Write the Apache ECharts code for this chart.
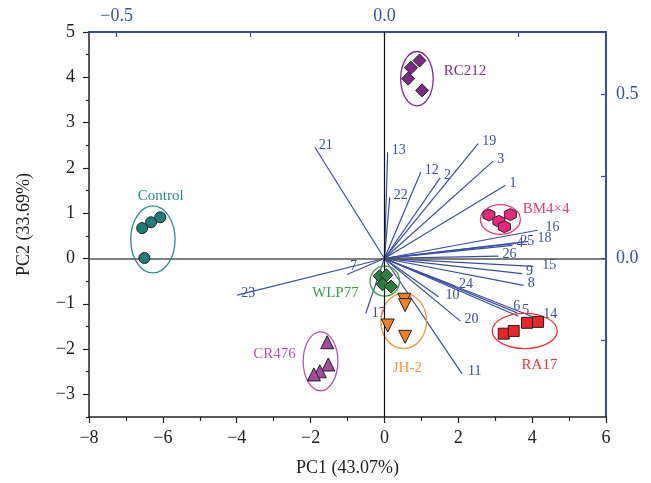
<!DOCTYPE html>
<html>
<head>
<meta charset="utf-8">
<script src="https://cdn.jsdelivr.net/npm/echarts@6/dist/echarts.min.js"></script>
<style>
  html, body { margin: 0; padding: 0; background: #fff; }
  #chart { width: 651px; height: 483px; }
</style>
</head>
<body>
<div id="chart"></div>
<script>
  // score points (PC1, PC2) per group
  var groupNames = ["Control", "RC212", "BM4×4", "WLP77", "JH-2", "RA17", "CR476"];
  var controlScores = [[-6.56, 0.67], [-6.32, 0.80], [-6.07, 0.91], [-6.50, 0.01]];
  var rc212Scores = [[0.95, 4.37], [0.72, 4.21], [0.64, 3.97], [1.02, 3.71]];
  var bm44Scores = [[2.83, 0.96], [3.10, 0.82], [3.41, 0.97], [3.25, 0.70]];
  var wlp77Scores = [[-0.13, -0.39], [0.05, -0.37], [-0.05, -0.57], [0.18, -0.62]];
  var jh2Scores = [[0.54, -0.91], [0.56, -1.03], [0.09, -1.48], [0.56, -1.73]];
  var ra17Scores = [[3.23, -1.66], [3.50, -1.60], [3.86, -1.42], [4.16, -1.40]];
  var cr476Scores = [[-1.55, -1.85], [-1.52, -2.34], [-1.75, -2.49], [-1.91, -2.56]];

  // confidence ellipses: centre x, centre y, half width, half height (score units)
  var ellipseCx = [-6.27, 0.88, 3.14, 0.01, 0.52, 3.80, -1.73];
  var ellipseCy = [0.42, 3.97, 0.86, -0.50, -1.38, -1.60, -2.27];
  var ellipseRx = [0.60, 0.44, 0.54, 0.40, 0.62, 0.88, 0.47];
  var ellipseRy = [0.74, 0.60, 0.33, 0.33, 0.61, 0.39, 0.65];

  // variable loadings (top / right axes)
  var variableIds = ["1", "2", "3", "4", "5", "6", "7", "8", "9", "10", "11", "12", "13",
    "14", "15", "16", "17", "18", "19", "20", "21", "22", "23", "24", "25", "26"];
  var loadingPC1 = [0.226, 0.104, 0.203, 0.239, 0.250, 0.248, -0.070, 0.260, 0.257, 0.101, 0.145, 0.068, 0.006,
    0.276, 0.278, 0.286, -0.035, 0.269, 0.175, 0.142, -0.130, 0.010, -0.275, 0.132, 0.246, 0.213];
  var loadingPC2 = [0.223, 0.246, 0.297, 0.040, -0.176, -0.166, -0.049, -0.082, -0.046, -0.117, -0.352, 0.264, 0.324,
    -0.177, -0.024, 0.086, -0.168, 0.052, 0.350, -0.191, 0.339, 0.187, -0.112, -0.084, 0.046, 0.007];

  // tick labels
  var pc1Ticks = [-8, -6, -4, -2, 0, 2, 4, 6];
  var pc2Ticks = [-3, -2, -1, 0, 1, 2, 3, 4, 5];
  var pc2MinorTicks = [-3.5, -2.5, -1.5, -0.5, 0.5, 1.5, 2.5, 3.5, 4.5];
  var loadTopTicks = [-0.5, 0.0];
  var loadRightTicks = [0.0, 0.5];

  // ---- styling / layout ----
  var blue = "#3b4ea0";
  var serif = "Liberation Serif";
  var fillColors = ["#1d7d78", "#7a2a84", "#e8287b", "#2c7f3a", "#f28024", "#e8262b", "#a24c9d"];
  var lineColors = ["#2a8c86", "#7f2d88", "#e83c82", "#3b9a4b", "#f5963b", "#e8353b", "#b257aa"];
  var symbols = ["circle", "diamond",
    "path://M0,-1L0.866,-0.5L0.866,0.5L0,1L-0.866,0.5L-0.866,-0.5Z",
    "diamond", "path://M-1,-0.85L1,-0.85L0,0.9Z", "rect", "triangle"];
  var symbolSizes = [11, 13, 12, 13, 13, 11, 13];
  var groupLabelAt = [[-6.06, 1.37], [2.18, 4.13], [4.38, 1.08], [-1.33, -0.77], [0.62, -2.41], [4.20, -2.36], [-2.98, -2.10]];
  var labelShift = { "5": [4, -6], "6": [-4, -7], "7": [3, -8], "10": [7, -2], "11": [6, -3], "14": [11, -2],
    "15": [9, -1], "16": [8, -3], "17": [6, 0], "18": [9, -3] };

  var scaleX = 14.5, scaleY = 7.24; // score units per loading unit

  var allScores = [controlScores, rc212Scores, bm44Scores, wlp77Scores, jh2Scores, ra17Scores, cr476Scores];
  var minus = function (v) { return String(v).replace("-", "\u2212"); };
  var gridBox = { left: 89, right: 45, top: 32, bottom: 66, containLabel: false };

  var series = [];

  // zero lines
  series.push({
    type: "scatter", data: [], z: 1,
    markLine: {
      silent: true, symbol: "none", label: { show: false }, animation: false,
      data: [
        { yAxis: 0, lineStyle: { color: "#555", width: 1.6, type: "solid" } },
        { xAxis: 0, lineStyle: { color: "#111", width: 1.2, type: "solid" } }
      ]
    }
  });

  // loading vectors
  var vecData = variableIds.map(function (id, i) { return [loadingPC1[i], loadingPC2[i], i]; });
  series.push({
    type: "custom", xAxisIndex: 1, yAxisIndex: 1, z: 2, data: vecData,
    renderItem: function (params, api) {
      var o = api.coord([0, 0]);
      var p = api.coord([api.value(0), api.value(1)]);
      var id = variableIds[api.value(2)];
      var s = labelShift[id] || [4, -2];
      return {
        type: "group",
        children: [
          { type: "line", shape: { x1: o[0], y1: o[1], x2: p[0], y2: p[1] }, style: { stroke: blue, lineWidth: 1.2 } },
          { type: "text", x: p[0] + s[0], y: p[1] + s[1],
            style: { text: id, fill: blue, font: "14px " + serif, align: "left", verticalAlign: "middle" } }
        ]
      };
    }
  });

  // ellipses
  var ellData = groupNames.map(function (n, i) { return [ellipseCx[i], ellipseCy[i], ellipseRx[i], ellipseRy[i], i]; });
  series.push({
    type: "custom", z: 3, data: ellData,
    renderItem: function (params, api) {
      var c = api.coord([api.value(0), api.value(1)]);
      var sz = api.size([api.value(2), api.value(3)]);
      return {
        type: "ellipse", shape: { cx: c[0], cy: c[1], rx: sz[0], ry: sz[1] },
        style: { fill: "none", stroke: lineColors[api.value(4)], lineWidth: 1.3 }
      };
    }
  });

  // group labels
  var glData = groupNames.map(function (n, i) { return [groupLabelAt[i][0], groupLabelAt[i][1], i]; });
  series.push({
    type: "custom", z: 3, data: glData,
    renderItem: function (params, api) {
      var c = api.coord([api.value(0), api.value(1)]);
      var i = api.value(2);
      return {
        type: "text", x: c[0], y: c[1],
        style: { text: groupNames[i], fill: lineColors[i], font: "15px " + serif, align: "center", verticalAlign: "middle" }
      };
    }
  });

  // score points
  allScores.forEach(function (pts, i) {
    series.push({
      type: "scatter", name: groupNames[i], z: 5, data: pts,
      symbol: symbols[i], symbolSize: symbolSizes[i],
      itemStyle: { color: fillColors[i], borderColor: "#222", borderWidth: 1, opacity: 1 }
    });
  });

  var chart = echarts.init(document.getElementById("chart"), null, { renderer: "canvas" });
  chart.setOption({
    animation: false,
    backgroundColor: "#fff",
    // second grid (same box) only carries the short half-step ticks of the left axis
    grid: [gridBox, gridBox],
    xAxis: [
      {
        type: "value", min: -8, max: 6, interval: 2, position: "bottom",
        name: "PC1 (43.07%)", nameLocation: "middle", nameGap: 42,
        nameTextStyle: { color: "#222", fontSize: 18, fontFamily: serif },
        axisLine: { show: true, onZero: false, lineStyle: { color: "#222", width: 1.5 } },
        axisTick: { show: true, inside: false, length: 6, lineStyle: { color: "#222", width: 1.2 } },
        minorTick: { show: true, splitNumber: 2, length: 4, lineStyle: { color: "#222", width: 1.2 } },
        splitLine: { show: false },
        axisLabel: { customValues: pc1Ticks, color: "#222", fontSize: 18, fontFamily: serif, margin: 12, formatter: minus }
      },
      {
        type: "value", min: -8 / scaleX, max: 6 / scaleX, position: "top",
        axisLine: { show: true, onZero: false, lineStyle: { color: blue, width: 2 } },
        axisTick: { show: true, inside: true, length: 5, customValues: [-0.5, -0.25, 0, 0.25], lineStyle: { color: blue, width: 1.2 } },
        splitLine: { show: false },
        axisLabel: { customValues: loadTopTicks, color: blue, fontSize: 18, fontFamily: serif, margin: 7,
          formatter: function (v) { return minus(v.toFixed(1)); } }
      },
      {
        gridIndex: 1, type: "value", min: 1, max: 2, show: false
      }
    ],
    yAxis: [
      {
        type: "value", min: -3.5, max: 5, position: "left",
        name: "PC2 (33.69%)", nameLocation: "middle", nameGap: 56,
        nameTextStyle: { color: "#222", fontSize: 18, fontFamily: serif },
        axisLine: { show: true, onZero: false, lineStyle: { color: "#222", width: 1.5 } },
        axisTick: { show: true, inside: false, length: 6, customValues: pc2Ticks, lineStyle: { color: "#222", width: 1.2 } },
        splitLine: { show: false },
        axisLabel: { customValues: pc2Ticks, color: "#222", fontSize: 18, fontFamily: serif, margin: 14, formatter: minus }
      },
      {
        type: "value", min: -3.5 / scaleY, max: 5 / scaleY, position: "right",
        axisLine: { show: true, onZero: false, lineStyle: { color: blue, width: 2 } },
        axisTick: { show: true, inside: true, length: 5, customValues: [-0.25, 0, 0.25, 0.5], lineStyle: { color: blue, width: 1.2 } },
        splitLine: { show: false },
        axisLabel: { customValues: loadRightTicks, color: blue, fontSize: 18, fontFamily: serif, margin: 10,
          formatter: function (v) { return v.toFixed(1); } }
      },
      {
        gridIndex: 1, type: "value", min: -3.5, max: 5, position: "left",
        axisLine: { show: false, onZero: false },
        axisTick: { show: true, inside: false, length: 3, customValues: pc2MinorTicks,
          lineStyle: { color: "#222", width: 1.2 } },
        axisLabel: { show: false },
        splitLine: { show: false }
      }
    ],
    series: series
  });
</script>
</body>
</html>
